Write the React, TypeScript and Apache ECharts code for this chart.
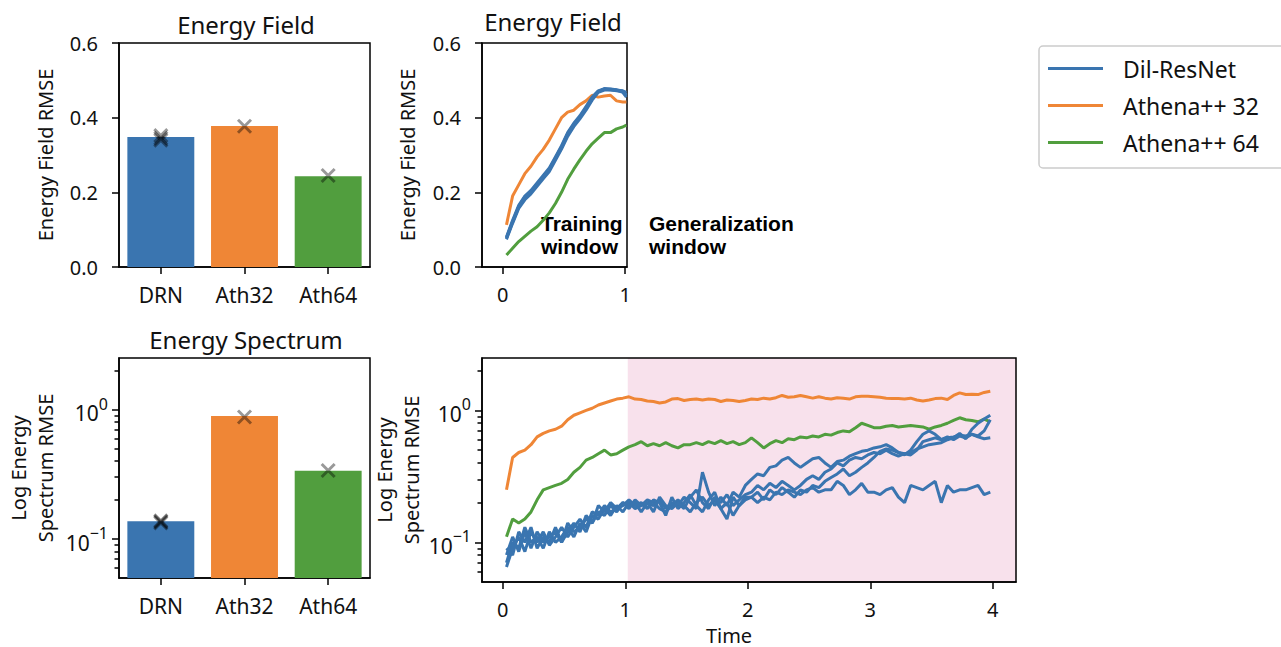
import React, { useEffect, useRef } from 'react';
import * as echarts from 'echarts';

// ---------- data ----------
const barCategories = ['DRN', 'Ath32', 'Ath64'];
const fieldBarValues = [0.348, 0.378, 0.243];
const fieldRunMarks: [string, number][] = [['DRN', 0.345], ['DRN', 0.34], ['DRN', 0.352], ['Ath32', 0.377], ['Ath64', 0.245]];
const spectrumBarValues = [0.137, 0.89, 0.336];
const spectrumRunMarks: [string, number][] = [['DRN', 0.138], ['DRN', 0.133], ['DRN', 0.136], ['Ath32', 0.875], ['Ath64', 0.338]];

const fieldTime = [0.03, 0.08, 0.13, 0.18, 0.23, 0.28, 0.33, 0.38, 0.43, 0.48, 0.53, 0.58, 0.63, 0.68, 0.73, 0.78, 0.83, 0.88, 0.93, 0.98, 1.01];
const fieldAth32 = [0.113, 0.19, 0.22, 0.25, 0.27, 0.295, 0.315, 0.34, 0.37, 0.40, 0.415, 0.42, 0.435, 0.445, 0.46, 0.455, 0.458, 0.46, 0.445, 0.442, 0.442];
const fieldAth64 = [0.032, 0.05, 0.068, 0.082, 0.096, 0.108, 0.125, 0.145, 0.17, 0.20, 0.235, 0.262, 0.287, 0.31, 0.33, 0.345, 0.36, 0.36, 0.37, 0.375, 0.38];
const fieldDRN1 = [0.077, 0.12, 0.16, 0.185, 0.20, 0.22, 0.24, 0.26, 0.29, 0.32, 0.355, 0.38, 0.40, 0.425, 0.45, 0.47, 0.476, 0.475, 0.472, 0.47, 0.46];
const fieldDRN2 = [0.080, 0.125, 0.165, 0.19, 0.205, 0.225, 0.245, 0.265, 0.295, 0.325, 0.36, 0.385, 0.405, 0.43, 0.455, 0.472, 0.478, 0.476, 0.474, 0.468, 0.455];
const fieldDRN3 = [0.074, 0.117, 0.157, 0.18, 0.196, 0.216, 0.236, 0.256, 0.286, 0.316, 0.35, 0.376, 0.397, 0.42, 0.447, 0.468, 0.474, 0.474, 0.473, 0.472, 0.468];
const fieldDRN4 = [0.078, 0.122, 0.162, 0.188, 0.202, 0.222, 0.242, 0.262, 0.292, 0.322, 0.357, 0.382, 0.402, 0.427, 0.452, 0.47, 0.477, 0.477, 0.475, 0.471, 0.462];

const spectrumTime = [
  0.03, 0.08, 0.13, 0.18, 0.23, 0.28, 0.33, 0.38, 0.43, 0.48, 0.53, 0.58, 0.63, 0.68, 0.73, 0.78, 0.83, 0.88, 0.93, 0.98,
  1.03, 1.08, 1.13, 1.18, 1.23, 1.28, 1.33, 1.38, 1.43, 1.48, 1.53, 1.58, 1.63, 1.68, 1.73, 1.78, 1.83, 1.88, 1.93, 1.98,
  2.03, 2.08, 2.13, 2.18, 2.23, 2.28, 2.33, 2.38, 2.43, 2.48, 2.53, 2.58, 2.63, 2.68, 2.73, 2.78, 2.83, 2.88, 2.93, 2.98,
  3.03, 3.08, 3.13, 3.18, 3.23, 3.28, 3.33, 3.38, 3.43, 3.48, 3.53, 3.58, 3.63, 3.68, 3.73, 3.78, 3.83, 3.88, 3.93, 3.98,
];
const spectrumAth32 = [
  0.25, 0.44, 0.48, 0.50, 0.55, 0.63, 0.67, 0.70, 0.72, 0.76, 0.85, 0.92, 0.96, 1.00, 1.04, 1.10, 1.14, 1.18, 1.22, 1.24,
  1.27, 1.22, 1.21, 1.18, 1.17, 1.14, 1.16, 1.22, 1.23, 1.19, 1.21, 1.22, 1.20, 1.22, 1.21, 1.17, 1.20, 1.19, 1.17, 1.19,
  1.22, 1.21, 1.24, 1.22, 1.25, 1.30, 1.26, 1.27, 1.30, 1.27, 1.24, 1.27, 1.24, 1.22, 1.25, 1.24, 1.22, 1.27, 1.28, 1.28,
  1.27, 1.26, 1.24, 1.23, 1.23, 1.22, 1.24, 1.20, 1.18, 1.20, 1.23, 1.24, 1.21, 1.30, 1.36, 1.32, 1.33, 1.32, 1.37, 1.40,
];
const spectrumAth64 = [
  0.11, 0.15, 0.14, 0.15, 0.17, 0.21, 0.25, 0.26, 0.27, 0.28, 0.30, 0.34, 0.37, 0.42, 0.44, 0.47, 0.50, 0.46, 0.47, 0.50,
  0.53, 0.55, 0.58, 0.54, 0.56, 0.54, 0.57, 0.54, 0.52, 0.55, 0.55, 0.57, 0.55, 0.58, 0.56, 0.59, 0.56, 0.58, 0.55, 0.57,
  0.62, 0.57, 0.52, 0.56, 0.59, 0.57, 0.61, 0.60, 0.63, 0.62, 0.64, 0.63, 0.66, 0.65, 0.68, 0.70, 0.69, 0.74, 0.80, 0.77,
  0.74, 0.74, 0.76, 0.77, 0.75, 0.76, 0.77, 0.76, 0.75, 0.72, 0.75, 0.77, 0.80, 0.84, 0.88, 0.85, 0.84, 0.82, 0.86, 0.82,
];
const spectrumDRN1 = [
  0.07, 0.10, 0.09, 0.13, 0.10, 0.11, 0.09, 0.12, 0.10, 0.11, 0.13, 0.11, 0.14, 0.12, 0.16, 0.15, 0.18, 0.16, 0.19, 0.17,
  0.20, 0.18, 0.19, 0.21, 0.20, 0.18, 0.17, 0.19, 0.21, 0.19, 0.17, 0.20, 0.22, 0.19, 0.21, 0.18, 0.20, 0.16, 0.19, 0.21,
  0.22, 0.20, 0.22, 0.21, 0.24, 0.23, 0.25, 0.24, 0.23, 0.25, 0.26, 0.24, 0.25, 0.25, 0.29, 0.27, 0.23, 0.25, 0.28, 0.24,
  0.24, 0.23, 0.25, 0.26, 0.22, 0.20, 0.27, 0.26, 0.25, 0.27, 0.29, 0.20, 0.27, 0.24, 0.25, 0.25, 0.26, 0.27, 0.23, 0.24,
];
const spectrumDRN2 = [
  0.09, 0.08, 0.12, 0.10, 0.13, 0.09, 0.11, 0.10, 0.13, 0.10, 0.12, 0.14, 0.12, 0.16, 0.14, 0.19, 0.17, 0.20, 0.18, 0.20,
  0.19, 0.20, 0.17, 0.20, 0.19, 0.21, 0.18, 0.20, 0.19, 0.22, 0.20, 0.18, 0.34, 0.24, 0.19, 0.22, 0.19, 0.24, 0.22, 0.27,
  0.30, 0.33, 0.32, 0.37, 0.38, 0.42, 0.44, 0.40, 0.37, 0.40, 0.43, 0.44, 0.40, 0.37, 0.41, 0.42, 0.45, 0.47, 0.49, 0.50,
  0.52, 0.53, 0.55, 0.52, 0.48, 0.46, 0.50, 0.58, 0.66, 0.70, 0.66, 0.60, 0.62, 0.63, 0.65, 0.64, 0.66, 0.63, 0.61, 0.62,
];
const spectrumDRN3 = [
  0.065, 0.09, 0.11, 0.085, 0.12, 0.10, 0.12, 0.095, 0.11, 0.13, 0.11, 0.13, 0.15, 0.13, 0.17, 0.16, 0.19, 0.17, 0.18, 0.19,
  0.21, 0.19, 0.20, 0.18, 0.21, 0.20, 0.16, 0.22, 0.18, 0.20, 0.23, 0.19, 0.17, 0.21, 0.24, 0.18, 0.15, 0.22, 0.19, 0.22,
  0.22, 0.24, 0.21, 0.25, 0.23, 0.26, 0.24, 0.22, 0.25, 0.24, 0.27, 0.26, 0.29, 0.31, 0.33, 0.36, 0.32, 0.34, 0.37, 0.40,
  0.44, 0.49, 0.51, 0.50, 0.48, 0.47, 0.48, 0.51, 0.53, 0.55, 0.56, 0.57, 0.60, 0.62, 0.67, 0.61, 0.72, 0.80, 0.86, 0.92,
];
const spectrumDRN4 = [
  0.08, 0.11, 0.085, 0.12, 0.09, 0.12, 0.10, 0.11, 0.12, 0.10, 0.14, 0.12, 0.13, 0.15, 0.14, 0.17, 0.16, 0.19, 0.17, 0.20,
  0.18, 0.21, 0.19, 0.20, 0.17, 0.22, 0.19, 0.18, 0.20, 0.18, 0.22, 0.25, 0.20, 0.18, 0.22, 0.20, 0.23, 0.19, 0.21, 0.23,
  0.24, 0.27, 0.25, 0.28, 0.26, 0.29, 0.27, 0.25, 0.27, 0.30, 0.32, 0.30, 0.34, 0.36, 0.40, 0.38, 0.42, 0.44, 0.43, 0.46,
  0.48, 0.47, 0.50, 0.47, 0.45, 0.47, 0.46, 0.50, 0.58, 0.60, 0.62, 0.60, 0.63, 0.60, 0.64, 0.62, 0.66, 0.64, 0.70, 0.85,
];

const linearTicks = [0, 0.2, 0.4, 0.6];
const fieldTimeTicks = [0, 1];
const spectrumTimeTicks = [0, 1, 2, 3, 4];
const logMajorTicks = [0.1, 1];
const logMinorTicks = [0.06, 0.07, 0.08, 0.09, 0.2, 0.3, 0.4, 0.5, 0.6, 0.7, 0.8, 0.9, 2];
const generalizationStart = 1.02;

// ---------- style ----------
const BLUE = '#3a75b0';
const ORANGE = '#ef8636';
const GREEN = '#519e3e';
const barColors = [BLUE, ORANGE, GREEN];
const FONT = 'Noto Sans';
const TXT = '#111';

const axisLine = { show: true, onZero: false, lineStyle: { color: '#000', width: 1.5 } };
const hiddenLine = { show: false, onZero: false };
const majorTick = { show: true, inside: false, length: 7, lineStyle: { color: '#000', width: 1.5 } };
const labelBase = { fontSize: 20, color: TXT, fontFamily: FONT };
const nameStyle = { fontSize: 20, color: TXT, fontFamily: FONT, lineHeight: 27 };

const gridBox = { show: true, borderColor: '#000', borderWidth: 1.5, backgroundColor: 'transparent', containLabel: false, outerBoundsMode: 'none' };

const logLabel = {
  ...labelBase,
  margin: 11,
  customValues: logMajorTicks,
  formatter: (v: number) => {
    const e = Math.round(Math.log10(v));
    return '{b|10}{s|' + (e < 0 ? '\u2212' + Math.abs(e) : String(e)) + '}';
  },
  rich: {
    b: { fontSize: 21, color: TXT, fontFamily: FONT, lineHeight: 28, verticalAlign: 'bottom' },
    s: { fontSize: 16, color: TXT, fontFamily: FONT, lineHeight: 16, verticalAlign: 'top' },
  },
};

const zip = (xs: number[], ys: number[]) => xs.map((x, i) => [x, ys[i]]);

const lineSeries = (name: string, color: string, xs: number[], ys: number[], xi: number, yi: number) => ({
  type: 'line',
  name,
  xAxisIndex: xi,
  yAxisIndex: yi,
  data: zip(xs, ys),
  symbol: 'none',
  z: 3,
  itemStyle: { color },
  lineStyle: { color, width: 3 },
});

const xMark = 'path://M0,0L10,10M10,0L0,10';
const markSeries = (data: [string, number][], xi: number, yi: number) => ({
  type: 'scatter',
  xAxisIndex: xi,
  yAxisIndex: yi,
  data,
  symbol: xMark,
  symbolSize: 13,
  z: 5,
  itemStyle: { color: 'none', borderColor: 'rgba(0,0,0,0.5)', borderWidth: 3 },
});

const option: any = {
  animation: false,
  backgroundColor: '#fff',
  textStyle: { fontFamily: FONT },
  grid: [
    { ...gridBox, left: 119, top: 43, width: 251, height: 224 },
    { ...gridBox, left: 482, top: 43, width: 145, height: 224 },
    { ...gridBox, left: 119, top: 358, width: 251, height: 220 },
    { ...gridBox, left: 482, top: 358, width: 534, height: 224 },
  ],
  xAxis: [
    {
      type: 'category', gridIndex: 0, data: barCategories, boundaryGap: true,
      axisLine, axisTick: { ...majorTick, alignWithLabel: true }, axisLabel: { ...labelBase, fontSize: 21, margin: 17 }, splitLine: { show: false },
    },
    {
      type: 'value', gridIndex: 1, min: -0.17, max: 1.015,
      axisLine, axisTick: { ...majorTick, customValues: fieldTimeTicks }, axisLabel: { ...labelBase, margin: 17, customValues: fieldTimeTicks }, splitLine: { show: false },
    },
    {
      type: 'category', gridIndex: 2, data: barCategories, boundaryGap: true,
      axisLine, axisTick: { ...majorTick, alignWithLabel: true }, axisLabel: { ...labelBase, fontSize: 21, margin: 17 }, splitLine: { show: false },
    },
    {
      type: 'value', gridIndex: 3, min: -0.17, max: 4.19,
      axisLine, axisTick: { ...majorTick, customValues: spectrumTimeTicks }, axisLabel: { ...labelBase, margin: 17, customValues: spectrumTimeTicks }, splitLine: { show: false },
      name: 'Time', nameLocation: 'middle', nameGap: 43, nameTextStyle: { ...nameStyle, lineHeight: 20, padding: [0, 40, 0, 0] },
    },
  ],
  yAxis: [
    {
      type: 'value', gridIndex: 0, min: 0, max: 0.6, interval: 0.2,
      axisLine, axisTick: { ...majorTick, customValues: linearTicks }, axisLabel: { ...labelBase, margin: 21, customValues: linearTicks, formatter: (v: number) => v.toFixed(1) }, splitLine: { show: false },
      name: 'Energy Field RMSE', nameLocation: 'middle', nameGap: 60, nameTextStyle: nameStyle,
    },
    {
      type: 'value', gridIndex: 1, min: 0, max: 0.6, interval: 0.2,
      axisLine, axisTick: { ...majorTick, customValues: linearTicks }, axisLabel: { ...labelBase, margin: 21, customValues: linearTicks, formatter: (v: number) => v.toFixed(1) }, splitLine: { show: false },
      name: 'Energy Field RMSE', nameLocation: 'middle', nameGap: 61, nameTextStyle: nameStyle,
    },
    {
      type: 'log', logBase: 10, gridIndex: 2, min: 0.05, max: 2.5, position: 'left',
      axisLine, axisTick: { ...majorTick, customValues: logMajorTicks }, axisLabel: logLabel, splitLine: { show: false },
      name: 'Log Energy\nSpectrum RMSE', nameLocation: 'middle', nameGap: 60, nameTextStyle: nameStyle,
    },
    {
      type: 'log', logBase: 10, gridIndex: 2, min: 0.05, max: 2.5, position: 'left',
      axisLine: hiddenLine, axisTick: { ...majorTick, length: 4.5, customValues: logMinorTicks }, axisLabel: { show: false }, splitLine: { show: false },
    },
    {
      type: 'log', logBase: 10, gridIndex: 3, min: 0.05, max: 2.5, position: 'left',
      axisLine, axisTick: { ...majorTick, customValues: logMajorTicks }, axisLabel: logLabel, splitLine: { show: false },
      name: 'Log Energy\nSpectrum RMSE', nameLocation: 'middle', nameGap: 55, nameTextStyle: nameStyle,
    },
    {
      type: 'log', logBase: 10, gridIndex: 3, min: 0.05, max: 2.5, position: 'left',
      axisLine: hiddenLine, axisTick: { ...majorTick, length: 4.5, customValues: logMinorTicks }, axisLabel: { show: false }, splitLine: { show: false },
    },
  ],
  legend: {
    orient: 'vertical',
    left: 1039,
    top: 46,
    data: ['Dil-ResNet', 'Athena++ 32', 'Athena++ 64'],
    icon: 'rect',
    itemWidth: 55,
    itemHeight: 3,
    itemGap: 10,
    padding: [9, 40, 12, 9],
    borderColor: '#cccccc',
    borderWidth: 1.5,
    borderRadius: 4,
    selectedMode: false,
    textStyle: { fontSize: 23, color: TXT, fontFamily: FONT, lineHeight: 27, padding: [0, 0, 0, 15] },
  },
  graphic: [
    { type: 'text', x: 246, y: 24, style: { text: 'Energy Field', fontSize: 24, fontFamily: FONT, fill: TXT, textAlign: 'center', textVerticalAlign: 'middle' } },
    { type: 'text', x: 553, y: 21, style: { text: 'Energy Field', fontSize: 24, fontFamily: FONT, fill: TXT, textAlign: 'center', textVerticalAlign: 'middle' } },
    { type: 'text', x: 246, y: 339, style: { text: 'Energy Spectrum', fontSize: 24, fontFamily: FONT, fill: TXT, textAlign: 'center', textVerticalAlign: 'middle' } },
    { type: 'text', x: 541, y: 235, style: { text: 'Training\nwindow', fontSize: 21, lineHeight: 23, fontWeight: 'bold', fontFamily: 'Liberation Sans', fill: '#000', textAlign: 'left', textVerticalAlign: 'middle' } },
    { type: 'text', x: 649, y: 235, style: { text: 'Generalization\nwindow', fontSize: 21, lineHeight: 23, fontWeight: 'bold', fontFamily: 'Liberation Sans', fill: '#000', textAlign: 'left', textVerticalAlign: 'middle' } },
  ],
  series: [
    {
      type: 'bar', xAxisIndex: 0, yAxisIndex: 0, barWidth: '80%', z: 2,
      data: fieldBarValues.map((v, i) => ({ value: v, itemStyle: { color: barColors[i] } })),
    },
    markSeries(fieldRunMarks, 0, 0),
    lineSeries('Athena++ 64', GREEN, fieldTime, fieldAth64, 1, 1),
    lineSeries('Athena++ 32', ORANGE, fieldTime, fieldAth32, 1, 1),
    lineSeries('Dil-ResNet', BLUE, fieldTime, fieldDRN1, 1, 1),
    lineSeries('Dil-ResNet', BLUE, fieldTime, fieldDRN2, 1, 1),
    lineSeries('Dil-ResNet', BLUE, fieldTime, fieldDRN3, 1, 1),
    lineSeries('Dil-ResNet', BLUE, fieldTime, fieldDRN4, 1, 1),
    {
      type: 'custom', xAxisIndex: 2, yAxisIndex: 2, z: 2,
      data: spectrumBarValues.map((v, i) => [i, v]),
      encode: { x: 0, y: 1 },
      renderItem: (params: any, api: any) => {
        const idx = api.value(0);
        const val = api.value(1);
        const top = api.coord([idx, val]);
        const a = api.coord([0, val]);
        const b = api.coord([1, val]);
        const w = (b[0] - a[0]) * 0.8;
        const cs = params.coordSys;
        const bottom = cs.y + cs.height;
        return {
          type: 'rect',
          shape: { x: top[0] - w / 2, y: top[1], width: w, height: bottom - top[1] },
          style: { fill: barColors[params.dataIndex] },
        };
      },
    },
    markSeries(spectrumRunMarks, 2, 2),
    {
      type: 'line', xAxisIndex: 3, yAxisIndex: 4, z: -1, silent: true,
      data: [[generalizationStart, 1], [4.19, 1]], symbol: 'none', lineStyle: { opacity: 0, width: 0 },
      markArea: { silent: true, z: -1, itemStyle: { color: '#f8e1ec', opacity: 1 }, data: [[{ xAxis: generalizationStart }, { xAxis: 4.19 }]] },
    },
    lineSeries('Athena++ 32', ORANGE, spectrumTime, spectrumAth32, 3, 4),
    lineSeries('Athena++ 64', GREEN, spectrumTime, spectrumAth64, 3, 4),
    lineSeries('Dil-ResNet', BLUE, spectrumTime, spectrumDRN1, 3, 4),
    lineSeries('Dil-ResNet', BLUE, spectrumTime, spectrumDRN2, 3, 4),
    lineSeries('Dil-ResNet', BLUE, spectrumTime, spectrumDRN3, 3, 4),
    lineSeries('Dil-ResNet', BLUE, spectrumTime, spectrumDRN4, 3, 4),
  ],
};

export default function App() {
  const ref = useRef<HTMLDivElement>(null);
  useEffect(() => {
    const chart = echarts.init(ref.current as HTMLDivElement, null, { renderer: 'svg' });
    chart.setOption(option);
    return () => chart.dispose();
  }, []);
  return <div ref={ref} style={{ position: 'fixed', left: 0, top: 0, width: 1281, height: 647, background: '#fff' }} />;
}
